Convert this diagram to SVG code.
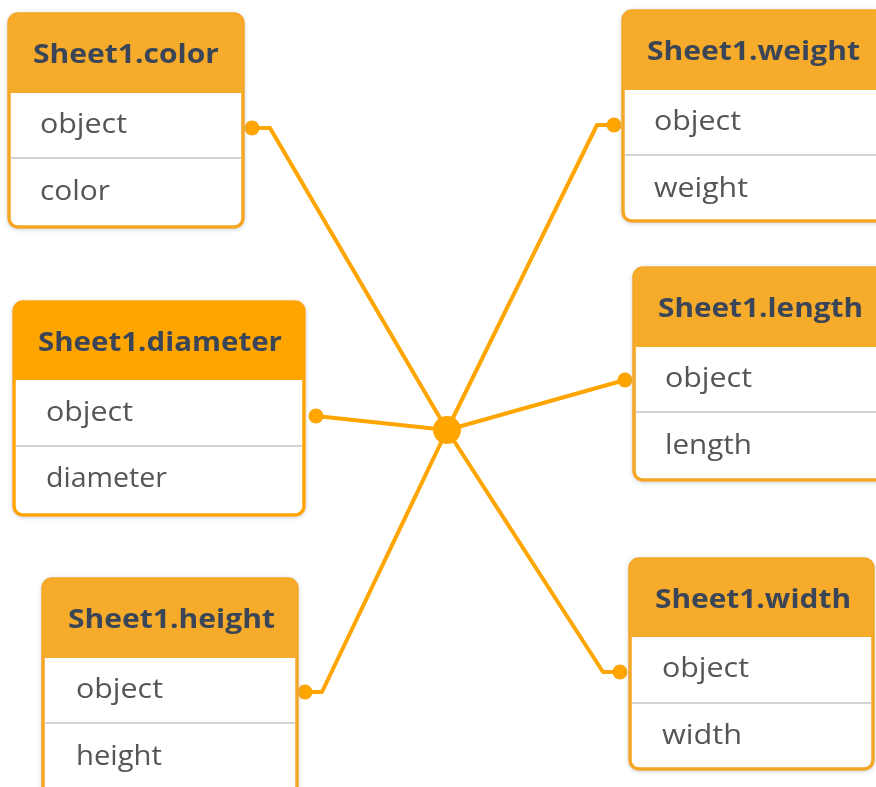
<svg xmlns="http://www.w3.org/2000/svg" width="876" height="787" viewBox="0 0 876 787">
<defs>
<filter id="sh" x="-10%" y="-10%" width="120%" height="120%">
<feDropShadow dx="0" dy="1" stdDeviation="2" flood-color="#8fa3b8" flood-opacity="0.45"/>
</filter>
</defs>
<style>
.box{fill:#ffffff;stroke:#F5A623;stroke-width:3.5}
.hdr{fill:#F6AB2A}
.sel .box{stroke:#FFA500}
.sel .hdr{fill:#FFA500}
.div{stroke:#c4c4c4;stroke-width:1.5}
.title{font-family:"Open Sans","DejaVu Sans",sans-serif;font-weight:bold;font-size:27px;fill:#3a4558;text-anchor:middle}
.row{font-family:"Open Sans","DejaVu Sans",sans-serif;font-size:27px;fill:#555555}
.conn{fill:none;stroke:#FFA500;stroke-width:4;stroke-linejoin:round}
.dot{fill:#FFA500}
</style>
<rect width="876" height="787" fill="#ffffff"/>
<g id="connectors">
<polyline class="conn" points="252,128 270,128 447,430"/>
<polyline class="conn" points="614,125 597,125 447,430"/>
<polyline class="conn" points="316,416 447,430"/>
<polyline class="conn" points="625,380 447,430"/>
<polyline class="conn" points="305,692 322,692 447,430"/>
<polyline class="conn" points="620,672 603,672 447,430"/>
<circle class="dot" cx="252" cy="128" r="7.5"/>
<circle class="dot" cx="614" cy="125" r="7.5"/>
<circle class="dot" cx="316" cy="416" r="7.5"/>
<circle class="dot" cx="625" cy="380" r="7.5"/>
<circle class="dot" cx="305" cy="692" r="7.5"/>
<circle class="dot" cx="620" cy="672" r="7.5"/>
<circle class="dot" cx="447" cy="430" r="14"/>
</g>
<g id="node-color" filter="url(#sh)">
<rect class="box" x="9" y="14" width="234" height="213" rx="9"/>
<path class="hdr" d="M9,93 V23 A9,9 0 0 1 18,14 H234 A9,9 0 0 1 243,23 V93 Z"/>
<line class="div" x1="11" y1="158" x2="241" y2="158"/>
<text class="title" x="126" y="63" textLength="186" lengthAdjust="spacingAndGlyphs">Sheet1.color</text>
<text class="row" x="40" y="133" textLength="87" lengthAdjust="spacingAndGlyphs">object</text>
<text class="row" x="40" y="200" textLength="70" lengthAdjust="spacingAndGlyphs">color</text>
</g>
<g id="node-weight" filter="url(#sh)">
<rect class="box" x="623" y="11" width="262" height="210" rx="9"/>
<path class="hdr" d="M623,90 V20 A9,9 0 0 1 632,11 H876 A9,9 0 0 1 885,20 V90 Z"/>
<line class="div" x1="625" y1="155" x2="883" y2="155"/>
<text class="title" x="753.5" y="60" textLength="213" lengthAdjust="spacingAndGlyphs">Sheet1.weight</text>
<text class="row" x="654" y="130" textLength="87" lengthAdjust="spacingAndGlyphs">object</text>
<text class="row" x="654" y="197" textLength="94" lengthAdjust="spacingAndGlyphs">weight</text>
</g>
<g id="node-diameter" class="sel" filter="url(#sh)">
<rect class="box" x="14" y="302" width="290" height="213" rx="9"/>
<path class="hdr" d="M14,380 V311 A9,9 0 0 1 23,302 H295 A9,9 0 0 1 304,311 V380 Z"/>
<line class="div" x1="16" y1="446" x2="302" y2="446"/>
<text class="title" x="160" y="351" textLength="244" lengthAdjust="spacingAndGlyphs">Sheet1.diameter</text>
<text class="row" x="46" y="421" textLength="87" lengthAdjust="spacingAndGlyphs">object</text>
<text class="row" x="46" y="487" textLength="121" lengthAdjust="spacingAndGlyphs">diameter</text>
</g>
<g id="node-length" filter="url(#sh)">
<rect class="box" x="634" y="268" width="254" height="212" rx="9"/>
<path class="hdr" d="M634,347 V277 A9,9 0 0 1 643,268 H879 A9,9 0 0 1 888,277 V347 Z"/>
<line class="div" x1="636" y1="412" x2="886" y2="412"/>
<text class="title" x="760.5" y="317" textLength="205" lengthAdjust="spacingAndGlyphs">Sheet1.length</text>
<text class="row" x="665" y="387" textLength="87" lengthAdjust="spacingAndGlyphs">object</text>
<text class="row" x="665" y="454" textLength="87" lengthAdjust="spacingAndGlyphs">length</text>
</g>
<g id="node-height" filter="url(#sh)">
<rect class="box" x="43" y="579" width="254" height="230" rx="9"/>
<path class="hdr" d="M43,658 V588 A9,9 0 0 1 52,579 H288 A9,9 0 0 1 297,588 V658 Z"/>
<line class="div" x1="45" y1="723" x2="295" y2="723"/>
<text class="title" x="171.5" y="628" textLength="207" lengthAdjust="spacingAndGlyphs">Sheet1.height</text>
<text class="row" x="76" y="698" textLength="87" lengthAdjust="spacingAndGlyphs">object</text>
<text class="row" x="76" y="765" textLength="86" lengthAdjust="spacingAndGlyphs">height</text>
</g>
<g id="node-width" filter="url(#sh)">
<rect class="box" x="630" y="559" width="243" height="210" rx="9"/>
<path class="hdr" d="M630,637 V568 A9,9 0 0 1 639,559 H864 A9,9 0 0 1 873,568 V637 Z"/>
<line class="div" x1="632" y1="703" x2="871" y2="703"/>
<text class="title" x="753" y="608" textLength="196" lengthAdjust="spacingAndGlyphs">Sheet1.width</text>
<text class="row" x="662" y="677" textLength="87" lengthAdjust="spacingAndGlyphs">object</text>
<text class="row" x="662" y="744" textLength="80" lengthAdjust="spacingAndGlyphs">width</text>
</g>
</svg>
